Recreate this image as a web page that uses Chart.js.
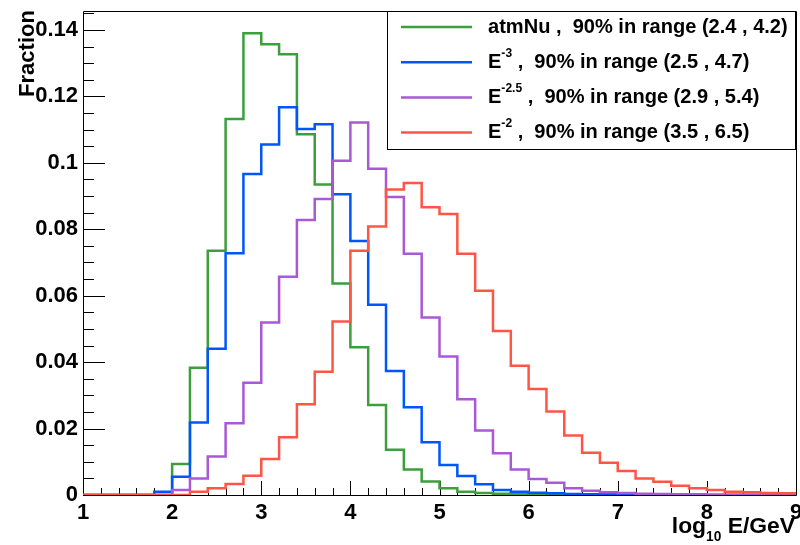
<!DOCTYPE html>
<html>
<head>
<meta charset="utf-8">
<script src="https://cdn.jsdelivr.net/npm/chart.js@4.4.1/dist/chart.umd.min.js"></script>
<style>
  html, body { margin: 0; padding: 0; background: #fff; }
  canvas { display: block; }
</style>
</head>
<body>
<canvas id="chart" width="800" height="545"></canvas>
<script>
// bin edges of log10(E/GeV), 40 bins of 0.2
const binEdges = [1.0, 1.2, 1.4, 1.6, 1.8, 2.0, 2.2, 2.4, 2.6, 2.8,
  3.0, 3.2, 3.4, 3.6, 3.8, 4.0, 4.2, 4.4, 4.6, 4.8,
  5.0, 5.2, 5.4, 5.6, 5.8, 6.0, 6.2, 6.4, 6.6, 6.8,
  7.0, 7.2, 7.4, 7.6, 7.8, 8.0, 8.2, 8.4, 8.6, 8.8, 9.0];

// fraction per bin
const atmNu = [0, 0, 0, 0, 0, 0.0093, 0.0383, 0.0735, 0.1132, 0.1390,
  0.1357, 0.1327, 0.1086, 0.0935, 0.0637, 0.0445, 0.0271, 0.0136, 0.0077, 0.0041,
  0.0020, 0.0010, 0.0006, 0.0004, 0.0002, 0, 0, 0, 0, 0,
  0, 0, 0, 0, 0, 0, 0, 0, 0, 0];
const eMinus3 = [0, 0, 0, 0, 0.0010, 0.0055, 0.0218, 0.0440, 0.0728, 0.0966,
  0.1055, 0.1167, 0.1102, 0.1116, 0.0905, 0.0765, 0.0573, 0.0373, 0.0264, 0.0159,
  0.0090, 0.0057, 0.0032, 0.0015, 0.0010, 0.0007, 0.0005, 0.0003, 0.0002, 0.0002,
  0.0001, 0, 0, 0, 0, 0, 0, 0, 0, 0];
const eMinus25 = [0, 0, 0, 0, 0, 0.0015, 0.0050, 0.0116, 0.0216, 0.0338,
  0.0519, 0.0657, 0.0828, 0.0891, 0.1006, 0.1121, 0.0982, 0.0897, 0.0726, 0.0534,
  0.0417, 0.0288, 0.0194, 0.0126, 0.0077, 0.0048, 0.0037, 0.0020, 0.0013, 0.0008,
  0.0006, 0.0004, 0.0003, 0.0002, 0.0002, 0.0001, 0.0001, 0.0001, 0.0001, 0];
const eMinus2 = [0, 0, 0, 0, 0, 0, 0.0010, 0.0020, 0.0033, 0.0058,
  0.0108, 0.0174, 0.0273, 0.0371, 0.0522, 0.0735, 0.0808, 0.0920, 0.0939, 0.0866,
  0.0846, 0.0726, 0.0615, 0.0494, 0.0389, 0.0319, 0.0251, 0.0179, 0.0127, 0.0097,
  0.0072, 0.0050, 0.0040, 0.0028, 0.0020, 0.0015, 0.0010, 0.0008, 0.0006, 0.0005];

const xTickLabels = [1, 2, 3, 4, 5, 6, 7, 8, 9];
const yTickLabels = [0, 0.02, 0.04, 0.06, 0.08, 0.1, 0.12, 0.14];

const seriesNames = ['atmNu', 'E', 'E', 'E'];
const seriesSups = ['', '-3', '-2.5', '-2'];
const seriesRanges = ['(2.4 , 4.2)', '(2.5 , 4.7)', '(2.9 , 5.4)', '(3.5 , 6.5)'];
const seriesColors = ['#3c9f3c', '#0055ff', '#a958d6', '#ff5544'];

const FONT = '"Liberation Sans", Arial, Helvetica, sans-serif';
const bold = px => 'bold ' + px + 'px ' + FONT;

function histPoints(vals) {
  // one point per bin edge, last edge repeats the last bin
  return binEdges.map((x, i) => ({ x: x, y: vals[Math.min(i, vals.length - 1)] }));
}

// pick a font size so a string fills the width seen in the picture
function fitSize(ctx, text, target) {
  ctx.font = bold(20);
  return 20 * target / ctx.measureText(text).width;
}

// frame + ROOT style inward ticks
const framePlugin = {
  id: 'frame',
  beforeDatasetsDraw(chart) {
    const { ctx, chartArea: a, scales } = chart;
    const xs = scales.x, ys = scales.y;
    ctx.save();
    ctx.strokeStyle = '#000';
    ctx.lineWidth = 1;
    ctx.beginPath();
    ctx.rect(Math.round(a.left) + 0.5, Math.round(a.top) + 0.5,
      Math.round(a.right - a.left), Math.round(a.bottom - a.top));
    ctx.stroke();
    ctx.beginPath();
    for (let k = 0; k <= 40; k++) {
      const v = 1 + k * 0.2;
      const px = Math.round(xs.getPixelForValue(v)) + 0.5;
      const len = (k % 5 === 0) ? 14 : 7;
      ctx.moveTo(px, a.bottom);
      ctx.lineTo(px, a.bottom - len);
    }
    for (let k = 0; k <= 29; k++) {
      const v = k * 0.005;
      if (v > ys.max) break;
      const py = Math.round(ys.getPixelForValue(v)) + 0.5;
      const len = (k % 4 === 0) ? 22 : 11;
      ctx.moveTo(a.left, py);
      ctx.lineTo(a.left + len, py);
    }
    ctx.stroke();
    ctx.restore();
  },
  afterDraw(chart) {
    const { ctx } = chart;
    ctx.save();
    ctx.fillStyle = '#000';
    ctx.textAlign = 'left';

    // y title
    const fy = fitSize(ctx, 'Fraction', 87);
    ctx.save();
    ctx.translate(28, 10);
    ctx.rotate(-Math.PI / 2);
    ctx.font = bold(fy);
    ctx.textAlign = 'right';
    ctx.textBaseline = 'middle';
    ctx.fillText('Fraction', 0, 0);
    ctx.restore();

    // x title: log_10 E/GeV, right aligned at the frame edge
    const fx = fitSize(ctx, 'log E/GeV', 108);
    const big = bold(fx), small = bold(fx * 0.6);
    ctx.textBaseline = 'alphabetic';
    ctx.font = big;
    const wLog = ctx.measureText('log').width;
    const wRest = ctx.measureText(' E/GeV').width;
    ctx.font = small;
    const wSub = ctx.measureText('10').width;
    const x0 = 795 - (wLog + wSub + wRest);
    const base = 533;
    ctx.font = big;
    ctx.fillText('log', x0, base);
    ctx.font = small;
    ctx.fillText('10', x0 + wLog, base + 8);
    ctx.font = big;
    ctx.fillText(' E/GeV', x0 + wLog + wSub, base);

    // legend box
    const bx = 387, by = 11, bw = 408, bh = 138;
    ctx.fillStyle = '#fff';
    ctx.fillRect(bx, by, bw, bh);
    ctx.strokeStyle = '#000';
    ctx.lineWidth = 1;
    ctx.strokeRect(bx + 0.5, by + 0.5, bw, bh);
    const tail = i => ' ,  90% in range ' + seriesRanges[i];
    const fl = fitSize(ctx, seriesNames[0] + tail(0), 300);
    const fs = fl * 0.6;
    for (let i = 0; i < seriesNames.length; i++) {
      const ly = 27 + i * 35.2;
      ctx.strokeStyle = seriesColors[i];
      ctx.lineWidth = 2.5;
      ctx.beginPath();
      ctx.moveTo(401, ly);
      ctx.lineTo(472, ly);
      ctx.stroke();
      ctx.fillStyle = '#000';
      ctx.textBaseline = 'middle';
      let tx = 488;
      ctx.font = bold(fl);
      ctx.fillText(seriesNames[i], tx, ly);
      tx += ctx.measureText(seriesNames[i]).width;
      if (seriesSups[i]) {
        ctx.font = bold(fs);
        ctx.fillText(seriesSups[i], tx, ly - fl * 0.42);
        tx += ctx.measureText(seriesSups[i]).width;
      }
      ctx.font = bold(fl);
      ctx.fillText(tail(i), tx, ly);
    }
    ctx.restore();
  }
};

const datasets = [atmNu, eMinus3, eMinus25, eMinus2].map((vals, i) => ({
  label: seriesNames[i] + seriesSups[i],
  data: histPoints(vals),
  borderColor: seriesColors[i],
  borderWidth: 2.5,
  pointRadius: 0,
  fill: false,
  stepped: 'before',
  order: 4 - i
}));

new Chart(document.getElementById('chart'), {
  type: 'line',
  data: { datasets },
  options: {
    responsive: false,
    animation: false,
    devicePixelRatio: 1,
    layout: { padding: { top: 11, right: 4, left: 0, bottom: 0 } },
    plugins: { legend: { display: false }, tooltip: { enabled: false } },
    scales: {
      x: {
        type: 'linear',
        min: 1, max: 9,
        grid: { display: false, drawTicks: false },
        border: { display: false },
        ticks: {
          padding: 5,
          color: '#000',
          font: { family: FONT, size: 22, weight: 'bold' },
          maxRotation: 0,
          autoSkip: false
        },
        afterBuildTicks(s) { s.ticks = xTickLabels.map(v => ({ value: v })); },
        afterFit(s) { s.height = 50; s.paddingLeft = 0; s.paddingRight = 0; }
      },
      y: {
        type: 'linear',
        min: 0, max: 0.1457,
        grid: { display: false, drawTicks: false },
        border: { display: false },
        ticks: {
          padding: 5,
          color: '#000',
          font: { family: FONT, size: 22, weight: 'bold' },
          callback: v => String(+v.toFixed(3))
        },
        afterBuildTicks(s) { s.ticks = yTickLabels.map(v => ({ value: v })); },
        afterFit(s) { s.width = 83; s.paddingTop = 0; s.paddingBottom = 0; }
      }
    }
  },
  plugins: [framePlugin]
});
</script>
</body>
</html>
